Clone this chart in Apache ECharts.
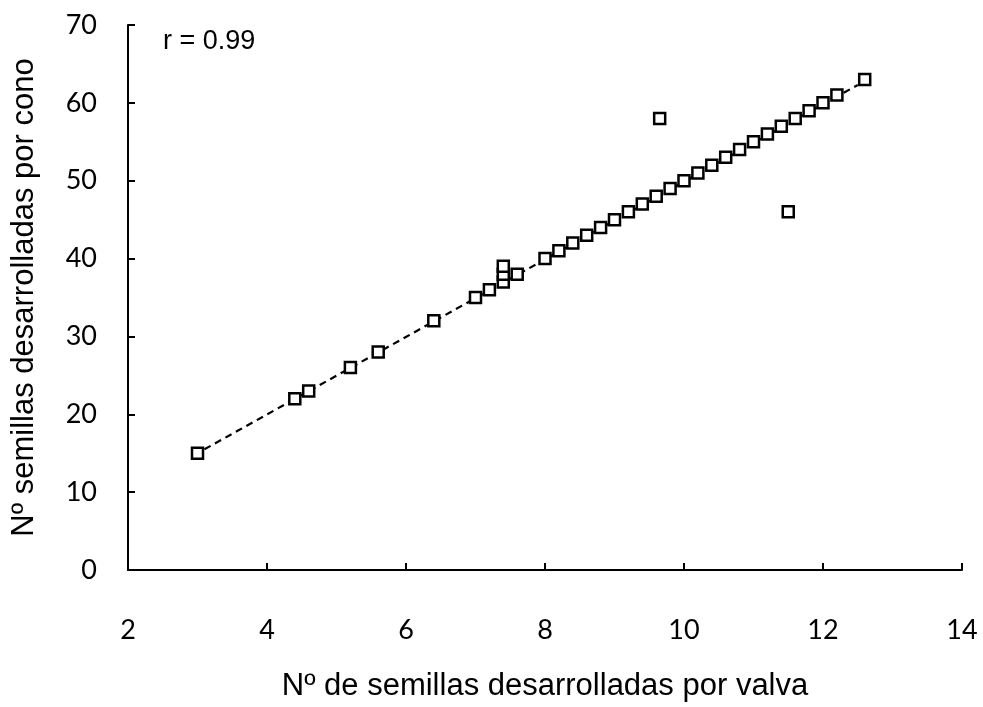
<!DOCTYPE html>
<html>
<head>
<meta charset="utf-8">
<script src="https://cdn.jsdelivr.net/npm/echarts@6/dist/echarts.min.js"></script>
<style>
  html, body { margin: 0; padding: 0; background: #fff; }
  #pic1 { width: 983px; height: 707px; }
</style>
</head>
<body>
<div id="pic1"></div>
<script>
// semillas por valva (x) y por cono (y)
var valva = [3.0, 4.4, 4.6, 5.2, 5.6, 6.4, 7.0, 7.2, 7.4, 7.4, 7.4, 7.6, 8.0, 8.2, 8.4, 8.6, 8.8, 9.0,
             9.2, 9.4, 9.6, 9.65, 9.8, 10.0, 10.2, 10.4, 10.6, 10.8, 11.0, 11.2, 11.4, 11.5, 11.6, 11.8,
             12.0, 12.2, 12.6];
var cono = [15, 22, 23, 26, 28, 32, 35, 36, 37, 38, 39, 38, 40, 41, 42, 43, 44, 45,
            46, 47, 48, 58, 49, 50, 51, 52, 53, 54, 55, 56, 57, 46, 58, 59,
            60, 61, 63];
// recta de ajuste
var trendX = [3.1, 12.5];
var trendY = [15.5, 62.3];
var xTicks = [2, 4, 6, 8, 10, 12, 14];
var yTicks = [0, 10, 20, 30, 40, 50, 60, 70];

var pic1 = echarts.init(document.getElementById('pic1'));
var font = 'Liberation Sans, Arial, sans-serif';
var tickFont = 'Lato, Carlito, sans-serif';

var option = {
    animation: false,
    backgroundColor: '#fff',
    grid: { left: 128, right: 21, top: 25, bottom: 135 },
    xAxis: {
        type: 'value',
        min: xTicks[0], max: xTicks[xTicks.length - 1], interval: 2,
        name: 'Nº de semillas desarrolladas por valva',
        nameLocation: 'middle',
        nameGap: 101,
        nameTextStyle: { fontFamily: font, fontSize: 31, color: '#000' },
        axisLine: { lineStyle: { color: '#000', width: 2 } },
        axisTick: { inside: true, length: 7, lineStyle: { color: '#000', width: 2 } },
        axisLabel: { margin: 47, fontFamily: tickFont, fontSize: 27, color: '#000' },
        splitLine: { show: false }
    },
    yAxis: {
        type: 'value',
        min: yTicks[0], max: yTicks[yTicks.length - 1], interval: 10,
        name: 'Nº semillas desarrolladas por cono',
        nameLocation: 'middle',
        nameGap: 88,
        nameTextStyle: { fontFamily: font, fontSize: 31, color: '#000' },
        axisLine: { lineStyle: { color: '#000', width: 2 } },
        axisTick: { inside: true, length: 7, lineStyle: { color: '#000', width: 2 } },
        axisLabel: { margin: 31, fontFamily: tickFont, fontSize: 27, color: '#000' },
        splitLine: { show: false }
    },
    graphic: [{
        type: 'text',
        left: 163, top: 28,
        style: { text: 'r = 0.99', fontFamily: font, fontSize: 27, fill: '#000' }
    }],
    series: [
        {
            type: 'line',
            data: trendX.map(function (x, i) { return [x, trendY[i]]; }),
            symbol: 'none',
            lineStyle: { color: '#000', width: 2.2, type: [7, 5] },
            z: 1
        },
        {
            type: 'scatter',
            data: valva.map(function (x, i) { return [x, cono[i]]; }),
            symbol: 'rect',
            symbolSize: 11,
            itemStyle: { color: '#fff', borderColor: '#000', borderWidth: 2.5, opacity: 1 },
            z: 2
        }
    ]
};

pic1.setOption(option);
</script>
</body>
</html>
